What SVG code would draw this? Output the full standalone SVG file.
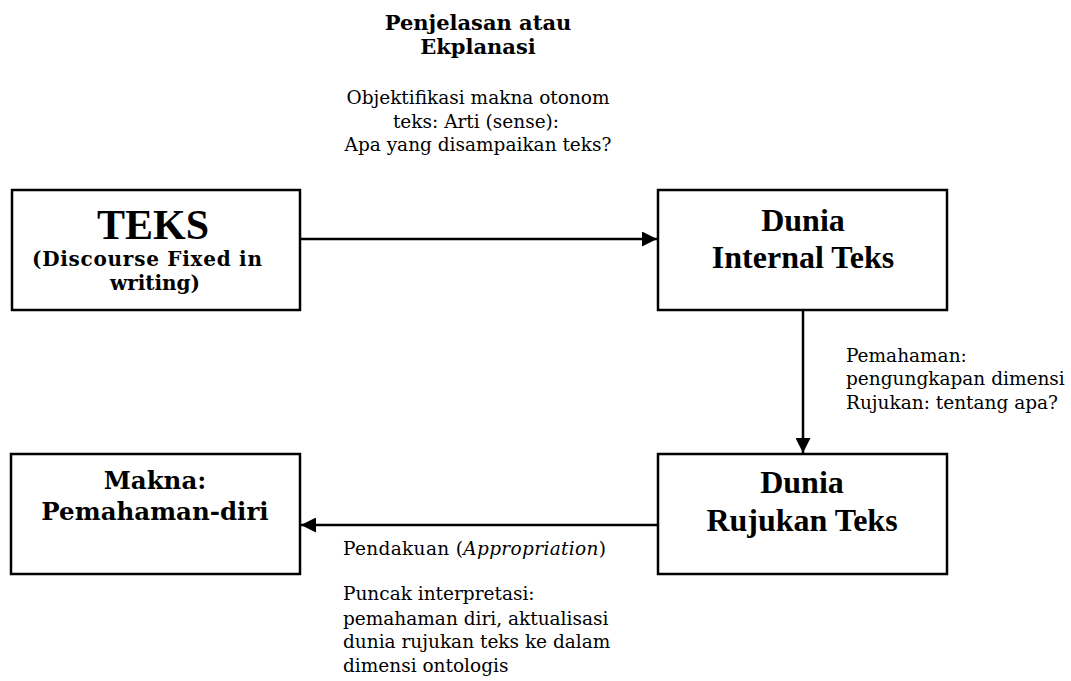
<svg xmlns="http://www.w3.org/2000/svg" width="1071" height="681" viewBox="0 0 1071 681">
<style>
.box{fill:#fff;stroke:#000;stroke-width:2.5}
.con{stroke:#000;stroke-width:2.5;fill:none}
.tnr{font-family:"Liberation Serif","Times New Roman",serif;font-weight:bold;fill:#000}
.geo{font-family:"DejaVu Serif",Georgia,serif;fill:#000;font-size:18.5px}
.geob{font-family:"DejaVu Serif",Georgia,serif;font-weight:bold;fill:#000}
</style>
<defs>
<marker id="ah" viewBox="0 0 10 10" refX="10" refY="5" markerWidth="6" markerHeight="6" markerUnits="strokeWidth" orient="auto">
<path d="M0,0 L10,5 L0,10 Z" fill="#000"/>
</marker>
</defs>
<rect width="1071" height="681" fill="#fff"/>
<g id="connectors">
<line class="con" x1="300" y1="239" x2="657" y2="239" marker-end="url(#ah)"/>
<line class="con" x1="803" y1="310" x2="803" y2="453" marker-end="url(#ah)"/>
<line class="con" x1="658" y1="525" x2="301" y2="525" marker-end="url(#ah)"/>
</g>
<g id="title">
<text class="geob" font-size="21" text-anchor="middle" x="478" y="30">Penjelasan atau</text>
<text class="geob" font-size="21" text-anchor="middle" x="478" y="54">Ekplanasi</text>
</g>
<g id="label-top">
<text class="geo" text-anchor="middle" x="478" y="104">Objektifikasi makna otonom</text>
<text class="geo" text-anchor="middle" x="476" y="127.5">teks: Arti (sense):</text>
<text class="geo" text-anchor="middle" x="478" y="151">Apa yang disampaikan teks?</text>
</g>
<g id="node-teks">
<rect class="box" x="12" y="190" width="288" height="120"/>
<text class="tnr" font-size="42" text-anchor="middle" x="153" y="239">TEKS</text>
<text class="geob" font-size="20" text-anchor="middle" x="147" y="266" textLength="230">(Discourse Fixed in</text>
<text class="geob" font-size="20" text-anchor="middle" x="155" y="290" textLength="90">writing)</text>
</g>
<g id="node-internal">
<rect class="box" x="658" y="190" width="289" height="120"/>
<text class="tnr" font-size="32" text-anchor="middle" x="803" y="231">Dunia</text>
<text class="tnr" font-size="32" text-anchor="middle" x="803" y="268">Internal Teks</text>
</g>
<g id="label-right">
<text class="geo" x="846" y="362">Pemahaman:</text>
<text class="geo" x="846" y="385">pengungkapan dimensi</text>
<text class="geo" x="846" y="408.5">Rujukan: tentang apa?</text>
</g>
<g id="node-rujukan">
<rect class="box" x="658" y="454" width="289" height="120"/>
<text class="tnr" font-size="32" text-anchor="middle" x="802" y="493">Dunia</text>
<text class="tnr" font-size="32" text-anchor="middle" x="802" y="531">Rujukan Teks</text>
</g>
<g id="node-makna">
<rect class="box" x="11" y="454" width="289" height="120"/>
<text class="geob" font-size="24.5" text-anchor="middle" x="155" y="489">Makna:</text>
<text class="geob" font-size="24.5" text-anchor="middle" x="155" y="520">Pemahaman-diri</text>
</g>
<g id="label-bottom">
<text class="geo" x="343" y="555" textLength="263">Pendakuan (<tspan font-style="italic">Appropriation</tspan>)</text>
<text class="geo" x="343" y="600">Puncak interpretasi:</text>
<text class="geo" x="343" y="625">pemahaman diri, aktualisasi</text>
<text class="geo" x="343" y="648">dunia rujukan teks ke dalam</text>
<text class="geo" x="343" y="672">dimensi ontologis</text>
</g>
</svg>
